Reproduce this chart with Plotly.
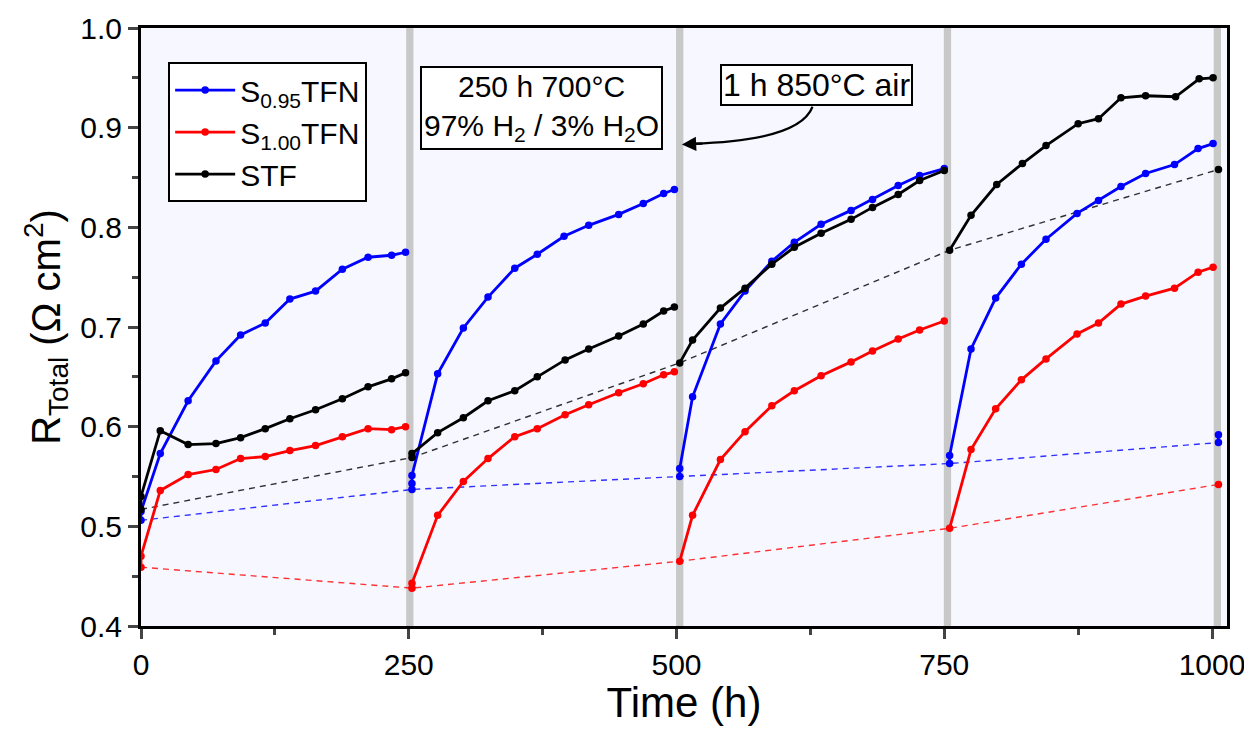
import plotly.graph_objects as go

# ---------------- data ----------------
seg1_t = [0, 0, 18, 44, 70, 93, 116, 139, 163, 188, 212, 234, 247]
seg2_t = [253, 253, 277, 301, 324, 349, 370, 396, 418, 446, 469, 488, 498]
seg3_t = [503, 515, 541, 564, 589, 610, 635, 663, 683, 707, 727, 750]
seg4_t = [755, 775, 798, 822, 845, 874, 894, 915, 938, 965, 987, 1001]
end_t = [1006]

# S0.95TFN (blue)
b_seg1 = [0.506, 0.515, 0.573, 0.626, 0.666, 0.692, 0.704, 0.728, 0.736, 0.758, 0.770, 0.772, 0.775]
b_seg2_t = [253, 253, 253, 277, 301, 324, 349, 370, 395, 418, 446, 469, 488, 498]
b_seg2 = [0.537, 0.543, 0.551, 0.653, 0.699, 0.730, 0.759, 0.773, 0.791, 0.802, 0.813, 0.824, 0.834, 0.838]
b_seg3_t = [503, 503, 515, 541, 564, 589, 610, 635, 663, 683, 707, 727, 750]
b_seg3 = [0.550, 0.558, 0.630, 0.703, 0.736, 0.766, 0.785, 0.803, 0.817, 0.828, 0.842, 0.852, 0.859]
b_seg4_t = [755, 755, 775, 798, 822, 845, 874, 894, 915, 938, 965, 987, 1001]
b_seg4 = [0.563, 0.571, 0.678, 0.729, 0.763, 0.788, 0.814, 0.827, 0.841, 0.854, 0.863, 0.879, 0.884]
b_end_t = [1006, 1006]
b_end = [0.584, 0.592]

# S1.00TFN (red)
r_seg1 = [0.459, 0.470, 0.536, 0.552, 0.557, 0.568, 0.570, 0.576, 0.581, 0.590, 0.598, 0.597, 0.600]
r_seg2 = [0.438, 0.443, 0.511, 0.545, 0.568, 0.590, 0.598, 0.612, 0.622, 0.634, 0.643, 0.652, 0.655]
r_seg3 = [0.465, 0.511, 0.567, 0.595, 0.621, 0.636, 0.651, 0.665, 0.676, 0.688, 0.697, 0.706]
r_seg4 = [0.498, 0.577, 0.618, 0.647, 0.668, 0.693, 0.704, 0.723, 0.731, 0.739, 0.755, 0.760]
r_end = [0.542]

# STF (black)
k_seg1 = [0.517, 0.530, 0.596, 0.582, 0.583, 0.589, 0.598, 0.608, 0.617, 0.628, 0.640, 0.648, 0.654]
k_seg2 = [0.569, 0.573, 0.594, 0.609, 0.626, 0.636, 0.650, 0.667, 0.678, 0.691, 0.703, 0.716, 0.720]
k_seg3 = [0.664, 0.687, 0.719, 0.739, 0.763, 0.780, 0.794, 0.808, 0.820, 0.833, 0.847, 0.857]
k_seg4_t = [755, 775, 799, 823, 845, 875, 894, 915, 938, 966, 988, 1001]
k_seg4 = [0.777, 0.812, 0.843, 0.864, 0.882, 0.904, 0.909, 0.930, 0.932, 0.931, 0.949, 0.950]
k_end = [0.858]

# trend (dashed) lines through post-regeneration points
trend_t = [0, 253, 503, 755, 1006]
b_trend = [0.506, 0.537, 0.550, 0.563, 0.584]
r_trend = [0.459, 0.438, 0.465, 0.498, 0.542]
k_trend = [0.517, 0.569, 0.664, 0.777, 0.858]

# regeneration events (1 h 850 C air)
regen_t = [251, 503, 753, 1005]

x_ticks = [0, 250, 500, 750, 1000]


def join(ts, vs):
    X, Y = [], []
    for t, v in zip(ts, vs):
        if X:
            X.append(None)
            Y.append(None)
        X.extend(t)
        Y.extend(v)
    return X, Y


FONT = "Liberation Sans, Arial, sans-serif"
fig = go.Figure()

series = [
    ("S<sub>0.95</sub>TFN", "#0000FF",
     [seg1_t, b_seg2_t, b_seg3_t, b_seg4_t, b_end_t], [b_seg1, b_seg2, b_seg3, b_seg4, b_end], b_trend),
    ("S<sub>1.00</sub>TFN", "#FF0000",
     [seg1_t, seg2_t, seg3_t, seg4_t, end_t], [r_seg1, r_seg2, r_seg3, r_seg4, r_end], r_trend),
    ("STF", "#000000",
     [seg1_t, seg2_t, seg3_t, k_seg4_t, end_t], [k_seg1, k_seg2, k_seg3, k_seg4, k_end], k_trend),
]

# dashed trend lines first (underneath)
for name, col, ts, vs, tr in series:
    fig.add_trace(go.Scatter(x=trend_t, y=tr, mode="lines",
                             line=dict(color=col, width=1.4, dash="6px,5px"),
                             opacity=0.8, showlegend=False, hoverinfo="skip"))

for name, col, ts, vs, tr in series:
    X, Y = join(ts, vs)
    fig.add_trace(go.Scatter(x=X, y=Y, mode="lines+markers", name=name,
                             line=dict(color=col, width=2.8),
                             marker=dict(color=col, size=7.5),
                             connectgaps=False))

# gray bars for regeneration events
for t in regen_t:
    fig.add_shape(type="rect", xref="x", yref="paper", x0=t - 3.4, x1=t + 3.4, y0=0, y1=1,
                  fillcolor="#C8C8C8", line=dict(width=0), layer="below")

# annotation boxes
fig.add_annotation(xref="x", yref="y", x=374, y=0.920,
                   text="250 h 700°C<br>97% H<sub>2</sub> / 3% H<sub>2</sub>O",
                   showarrow=False, font=dict(family=FONT, size=30, color="black"),
                   bgcolor="white", bordercolor="black", borderwidth=2, borderpad=2)
fig.add_annotation(xref="x", yref="y", x=631, y=0.943,
                   text="1 h 850°C air",
                   showarrow=False, font=dict(family=FONT, size=32, color="black"),
                   bgcolor="white", bordercolor="black", borderwidth=2, borderpad=1)

# curved arrow
fig.add_shape(type="path", xref="x", yref="y",
              path="M 627,0.921 Q 615,0.887 515,0.884",
              line=dict(color="black", width=2.2))
fig.add_annotation(xref="x", yref="y", x=505, y=0.883, ax=22, ay=-1,
                   axref="pixel", ayref="pixel", text="", showarrow=True,
                   arrowhead=2, arrowsize=1.3, arrowwidth=2.2, arrowcolor="black")

fig.update_layout(
    width=1236, height=718,
    margin=dict(l=133, r=17, t=20, b=100, autoexpand=False),
    paper_bgcolor="white",
    plot_bgcolor="#F6F7FF",
    font=dict(family=FONT, size=30, color="black"),
    legend=dict(x=0.025, y=0.943, xanchor="left", yanchor="top",
                bgcolor="white", bordercolor="black", borderwidth=2,
                font=dict(family=FONT, size=30), itemwidth=60,
                tracegroupgap=0),
    showlegend=True,
)
fig.update_xaxes(range=[0, 1014], tickvals=x_ticks, ticks="outside", ticklen=10, tickwidth=3,
                 minor=dict(dtick=125, ticks="outside", ticklen=6, tickwidth=3, tick0=0),
                 showline=True, linewidth=3, linecolor="black", mirror=True,
                 showgrid=False, zeroline=False, automargin=False,
                 ticklabeloverflow="allow",
                 tickfont=dict(family=FONT, size=30),
                 title=dict(text="Time (h)", font=dict(family=FONT, size=42), standoff=4))
fig.update_yaxes(range=[0.4, 1.0], dtick=0.1, tick0=0.4, tickformat=".1f",
                 ticks="outside", ticklen=10, tickwidth=3,
                 minor=dict(dtick=0.05, ticks="outside", ticklen=6, tickwidth=3),
                 showline=True, linewidth=3, linecolor="black", mirror=True,
                 showgrid=False, zeroline=False, automargin=False,
                 ticklabeloverflow="allow",
                 tickfont=dict(family=FONT, size=30),
                 title=dict(text="R<sub>Total</sub> (Ω cm<sup>2</sup>)",
                            font=dict(family=FONT, size=40), standoff=8))

fig.write_html("out.html")
